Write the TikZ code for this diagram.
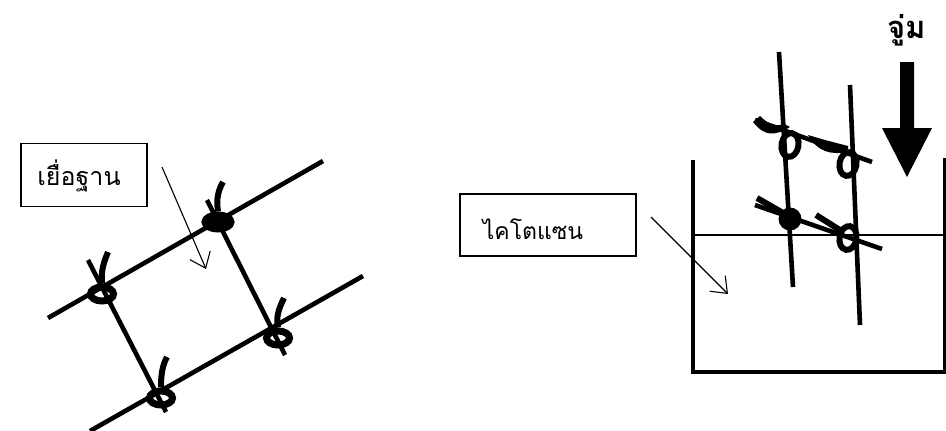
\documentclass[tikz,border=0pt]{standalone}
\usepackage{fontspec}
\newfontfamily\thaifont[Script=Thai]{Loma}
\usetikzlibrary{arrows.meta,shapes.geometric}
\tikzset{
  rod/.style={line width=4.6pt,black},
  lift/.style={line width=6pt,black},
  wall/.style={line width=4pt,black},
  pointer/.style={line width=1.1pt,black,-{Straight Barb[length=14pt,width=22pt,line width=1.1pt]}},
  label box/.style={draw,line width=1.8pt,minimum width=126pt,minimum height=63pt,inner sep=0pt},
  label text/.style={inner sep=0pt,font=\thaifont\fontsize{25}{30}\selectfont},
  knot/.style={draw,line width=7pt,ellipse,minimum width=23pt,minimum height=14pt,inner sep=0pt},
  solid knot/.style={fill,black,circle,minimum size=17pt,inner sep=0pt}
}
\begin{document}
\begin{tikzpicture}[x=1pt,y=-1pt]
\useasboundingbox (0,0) rectangle (946,431);
% ---- left: membrane on rods
\coordinate (ua) at (48,318); \coordinate (ub) at (323,161);
\coordinate (la) at (90,431); \coordinate (lb) at (363,276);
\coordinate (ca) at (88,260); \coordinate (cb) at (166,412);
\coordinate (da) at (207,200); \coordinate (db) at (285,355);
\draw[rod] (ua) -- (ub);
\draw[rod] (la) -- (lb);
\draw[rod] (ca) -- (cb);
\draw[rod] (da) -- (db);
\node[knot] (k1) at (102,294) {};
\node[knot,fill,minimum width=26pt] (k2) at (218,222) {};
\node[knot] (k3) at (278,338) {};
\node[knot] (k4) at (161,398) {};
\draw[lift] (108,252) .. controls (103,264) and (101,272) .. (k1.north);
\draw[lift] (223,182) .. controls (216,194) and (217,204) .. (k2.north);
\draw[lift] (284,298) .. controls (278,310) and (276,318) .. (k3.north);
\draw[lift] (167,357) .. controls (162,366) and (161,376) .. (k4.north);
\node[label box] (b1) at (84,175) {};
\node[label text] (t1) at (79,176) {เยื่อฐาน};
\coordinate (p1a) at (162,167); \coordinate (p1b) at (206,269);
\draw[pointer] (p1a) -- (p1b);
% ---- right: beaker
\coordinate (w1) at (693,160); \coordinate (w2) at (693,372);
\coordinate (w3) at (945,372); \coordinate (w4) at (945,158);
\draw[wall,line join=miter] (w1) -- (w2) -- (w3) -- (w4);
\coordinate (wl) at (693,235); \coordinate (wr) at (945,235);
\draw[line width=1.6pt] (wl) -- (wr);
\coordinate (ra) at (779,52); \coordinate (rb) at (793,287);
\coordinate (sa) at (850,85); \coordinate (sb) at (860,325);
\draw[rod] (ra) -- (rb);
\draw[rod] (sa) -- (sb);
\coordinate (ta) at (755,120); \coordinate (tb) at (872,162);
\coordinate (va) at (755,205); \coordinate (vb) at (882,249);
\draw[rod] (ta) -- (tb);
\draw[rod] (va) -- (vb);
\coordinate (xa) at (816,215); \coordinate (xb) at (843,232);
\draw[lift] (xa) -- (xb);
\draw[lift] (757,198) -- (790,217);
\fill (753,122) .. controls (765,137) and (775,136) .. (790,127) -- (784,124) .. controls (775,127) and (768,124) .. (760,116) -- cycle;
\fill (808,135) .. controls (818,152) and (830,155) .. (848,152) -- (848,146) -- (825,140) -- cycle;
\node[knot,rotate=80,minimum width=24pt,minimum height=17pt,line width=6pt] (q1) at (790,145) {};
\node[knot,rotate=80,minimum width=24pt,minimum height=17pt,line width=6pt] (q2) at (848,164) {};
\node[solid knot,minimum size=23pt] (q3) at (790,219) {};
\node[knot,rotate=80,minimum width=24pt,minimum height=17pt,line width=6pt] (q4) at (848,238) {};
\node[label box,minimum width=176pt,minimum height=62pt] (b2) at (548,225) {};
\node[label text,font=\thaifont\fontsize{23}{28}\selectfont] (t2) at (533,229) {ไคโตแซน};
\coordinate (p2a) at (651,217); \coordinate (p2b) at (728,294);
\draw[pointer] (p2a) -- (p2b);
% ---- press arrow
\node[font=\thaifont\bfseries\fontsize{31}{36}\selectfont,inner sep=0pt] (press) at (907,30) {จู่ม};
\fill (900,62) -- (914,62) -- (914,128) -- (932,128) -- (907,177) -- (882,128) -- (900,128) -- cycle;
\end{tikzpicture}
\end{document}
